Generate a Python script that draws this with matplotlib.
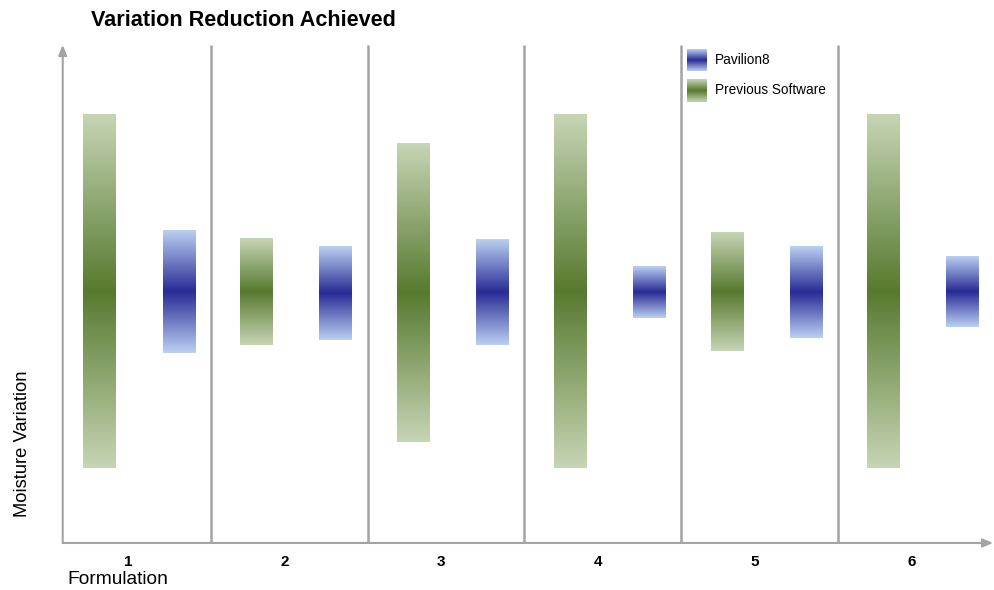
import numpy as np
import matplotlib
matplotlib.use("Agg")
import matplotlib.pyplot as plt
from matplotlib.colors import LinearSegmentedColormap

plt.rcParams['font.family'] = ['Liberation Sans', 'DejaVu Sans']

# data (moisture variation ranges per formulation)
formulations = ["1", "2", "3", "4", "5", "6"]
prev_low = [1.51, 3.98, 2.03, 1.51, 3.86, 1.51]
prev_high = [8.61, 6.12, 8.03, 8.61, 6.24, 8.61]
pav_low = [3.82, 4.08, 3.98, 4.52, 4.12, 4.34]
pav_high = [6.27, 5.96, 6.10, 5.56, 5.96, 5.76]

green_cmap = LinearSegmentedColormap.from_list("g", ["#587a30", "#c6d5b4"])
blue_cmap = LinearSegmentedColormap.from_list("b", ["#292c95", "#bbd0f2"])

fig = plt.figure(figsize=(9.94, 5.90), dpi=100)
ax = fig.add_axes([0.0631, 0.0797, 0.936, 0.844])

grad = np.abs(np.linspace(-1, 1, 256)).reshape(-1, 1)
bw = 0.205
xs = np.arange(1, len(formulations) + 1)


def grad_bar(x, lo, hi, cmap):
    ax.imshow(grad, cmap=cmap, extent=[x - bw / 2, x + bw / 2, lo, hi],
              aspect="auto", origin="lower", interpolation="bilinear", zorder=2)


for i, x in enumerate(xs):
    grad_bar(x - 0.18, prev_low[i], prev_high[i], green_cmap)
    grad_bar(x + 0.325, pav_low[i], pav_high[i], blue_cmap)

# separators between formulations
for x in xs[:-1]:
    ax.plot([x + 0.53, x + 0.53], [0, 10], color="#a3a3a3", lw=1.8, zorder=1,
            solid_capstyle="butt")

ax.set_xlim(0.585, 6.52)
ax.set_ylim(0, 10)
for s in ax.spines.values():
    s.set_visible(False)
ax.set_xticks(xs)
ax.set_xticklabels(formulations, fontweight="bold", fontsize=11)
ax.tick_params(axis="x", length=0, pad=9)
ax.set_yticks([])

# axis arrows
arrow = dict(arrowstyle="-|>,head_length=0.6,head_width=0.25", color="#a3a3a3", lw=1.5,
             shrinkA=0, shrinkB=0)
ax.annotate("", xy=(0, 1), xytext=(0, 0), xycoords="axes fraction", arrowprops=arrow)
ax.annotate("", xy=(1, 0), xytext=(0, 0), xycoords="axes fraction", arrowprops=arrow)

# legend (gradient swatches)
def swatch(y0, y1, cmap):
    x0, x1 = 687, 706
    fx0, fx1 = (x0 - 62.7) / 930.3, (x1 - 62.7) / 930.3
    fy0, fy1 = (543 - y1) / 498, (543 - y0) / 498
    ax.imshow(grad, cmap=cmap, extent=[fx0, fx1, fy0, fy1], transform=ax.transAxes,
              aspect="auto", origin="lower", interpolation="bilinear", zorder=3)

swatch(49, 71, blue_cmap)
swatch(79, 102, green_cmap)
ax.set_xlim(0.585, 6.52)
ax.set_ylim(0, 10)
fig.text(715 / 994, 1 - 60.5 / 590, "Pavilion8", fontsize=9.8, va="center", ha="left")
fig.text(715 / 994, 1 - 90.5 / 590, "Previous Software", fontsize=9.8, va="center", ha="left")

fig.text(91 / 994, 1 - 21 / 590, "Variation Reduction Achieved", fontsize=15.6,
         fontweight="bold", va="center", ha="left")
fig.text(23 / 994, 1 - 444 / 590, "Moisture Variation", fontsize=13.2, rotation=90,
         va="center", ha="center")
fig.text(67 / 994, 1 - 580 / 590, "Formulation", fontsize=13.8, va="center", ha="left")

fig.savefig("out.png", dpi=100)
